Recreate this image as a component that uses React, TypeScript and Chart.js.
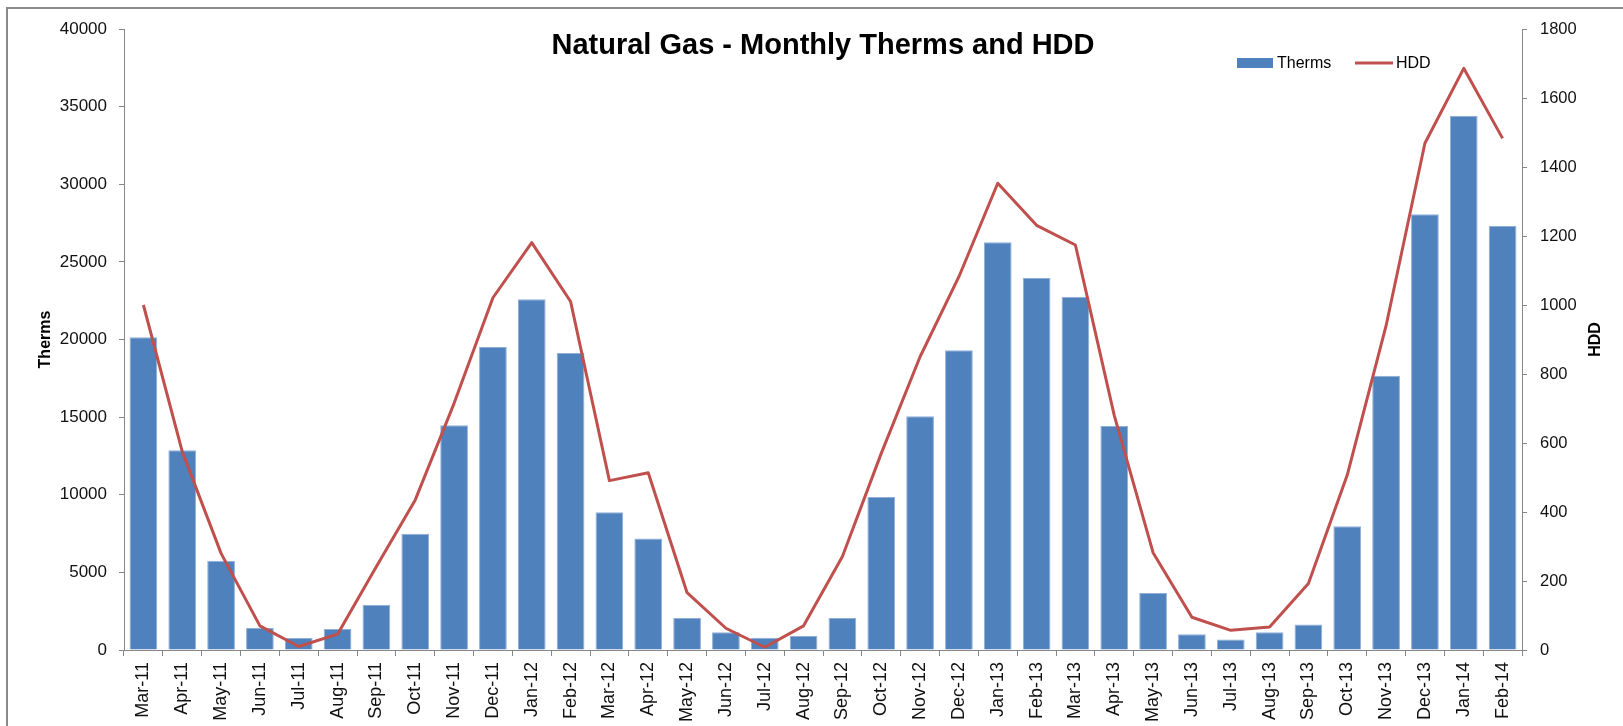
import { useEffect, useRef } from "react";
import { Chart, registerables } from "chart.js";

Chart.register(...registerables);

const months = [
  "Mar-11", "Apr-11", "May-11", "Jun-11", "Jul-11", "Aug-11", "Sep-11", "Oct-11", "Nov-11", "Dec-11",
  "Jan-12", "Feb-12", "Mar-12", "Apr-12", "May-12", "Jun-12", "Jul-12", "Aug-12", "Sep-12", "Oct-12",
  "Nov-12", "Dec-12", "Jan-13", "Feb-13", "Mar-13", "Apr-13", "May-13", "Jun-13", "Jul-13", "Aug-13",
  "Sep-13", "Oct-13", "Nov-13", "Dec-13", "Jan-14", "Feb-14",
];

const therms = [
  20140, 12860, 5750, 1420, 770, 1350, 2920, 7490, 14470, 19520,
  22590, 19130, 8870, 7190, 2060, 1140, 790, 900, 2060, 9860,
  15050, 19300, 26260, 23960, 22760, 14430, 3670, 1010, 670, 1140,
  1650, 7970, 17670, 28060, 34420, 27310,
];

const hdd = [
  1000, 575, 280, 70, 10, 46, 242, 435, 715, 1021,
  1181, 1010, 491, 514, 166, 63, 8, 70, 271, 570,
  850, 1082, 1353, 1231, 1174, 680, 282, 95, 57, 67,
  193, 507, 940, 1469, 1686, 1483,
];

const thermsAxis = { min: 0, max: 40000, step: 5000 };
const hddAxis = { min: 0, max: 1800, step: 200 };

const chartTitle = "Natural Gas - Monthly Therms and HDD";
const leftTitle = "Therms";
const rightTitle = "HDD";

const BAR_COLOR = "#4F81BD";
const LINE_COLOR = "#C0504D";
const AXIS_COLOR = "#878787";
const FONT = "'Liberation Sans', Arial, sans-serif";

const overlayPlugin = {
  id: "overlay",
  beforeDraw(chart: any) {
    const { ctx, width, height } = chart;
    ctx.save();
    ctx.fillStyle = "#ffffff";
    ctx.fillRect(0, 0, width, height);
    ctx.strokeStyle = "#8a8a8a";
    ctx.lineWidth = 2;
    ctx.beginPath();
    ctx.moveTo(7, height + 5);
    ctx.lineTo(7, 8);
    ctx.lineTo(width + 5, 8);
    ctx.stroke();
    ctx.restore();
  },
  afterDraw(chart: any) {
    const { ctx, chartArea } = chart;
    const ds = chart.data.datasets;
    ctx.save();
    ctx.fillStyle = "#000";
    // title
    ctx.font = `bold 29px ${FONT}`;
    ctx.textAlign = "center";
    ctx.textBaseline = "alphabetic";
    ctx.fillText(chartTitle, (chartArea.left + chartArea.right) / 2, 54);
    // axis titles
    const midY = (chartArea.top + chartArea.bottom) / 2;
    ctx.font = `bold 16px ${FONT}`;
    ctx.save();
    ctx.translate(49.5, midY);
    ctx.rotate(-Math.PI / 2);
    ctx.fillText(leftTitle, 0, 0);
    ctx.restore();
    ctx.save();
    ctx.translate(1600, midY);
    ctx.rotate(-Math.PI / 2);
    ctx.fillText(rightTitle, 0, 0);
    ctx.restore();
    // legend
    ctx.font = `16px ${FONT}`;
    ctx.textAlign = "left";
    ctx.fillStyle = ds[0].backgroundColor;
    ctx.fillRect(1237, 58, 36, 10);
    ctx.fillStyle = "#000";
    ctx.fillText(ds[0].label, 1277, 68);
    ctx.strokeStyle = ds[1].borderColor;
    ctx.lineWidth = 3;
    ctx.beginPath();
    ctx.moveTo(1355, 63);
    ctx.lineTo(1393, 63);
    ctx.stroke();
    ctx.fillText(ds[1].label, 1396, 68);
    ctx.restore();
  },
};

const plainNumber = (v: any) => String(v);

export default function App() {
  const ref = useRef<HTMLCanvasElement | null>(null);

  useEffect(() => {
    if (!ref.current) return;
    const chart = new Chart(ref.current, {
      type: "bar",
      data: {
        labels: months,
        datasets: [
          {
            type: "bar",
            label: "Therms",
            data: therms,
            backgroundColor: BAR_COLOR,
            borderColor: "#8FAFD6",
            borderWidth: 1,
            barPercentage: 0.714,
            categoryPercentage: 1,
            yAxisID: "y",
            order: 2,
          },
          {
            type: "line",
            label: "HDD",
            data: hdd,
            borderColor: LINE_COLOR,
            backgroundColor: LINE_COLOR,
            borderWidth: 3,
            pointRadius: 0,
            tension: 0,
            borderJoinStyle: "round",
            yAxisID: "y1",
            order: 1,
          },
        ] as any,
      },
      options: {
        animation: false,
        responsive: false,
        devicePixelRatio: 1,
        layout: { padding: { top: 29, left: 0, right: 0, bottom: 0 } },
        plugins: {
          legend: { display: false },
          title: { display: false },
          tooltip: { enabled: false },
        },
        scales: {
          x: {
            offset: true,
            grid: {
              offset: true,
              drawOnChartArea: false,
              drawTicks: true,
              tickLength: 6,
              color: AXIS_COLOR,
            },
            border: { display: true, color: AXIS_COLOR, width: 1 },
            ticks: {
              autoSkip: false,
              maxRotation: 90,
              minRotation: 90,
              padding: 6,
              color: "#111",
              font: { family: FONT, size: 18 },
            },
            afterFit(scale: any) {
              scale.height = 76;
            },
          },
          y: {
            position: "left",
            min: thermsAxis.min,
            max: thermsAxis.max,
            grid: {
              drawOnChartArea: false,
              drawTicks: true,
              tickLength: 5,
              color: AXIS_COLOR,
            },
            border: { display: true, color: AXIS_COLOR, width: 1 },
            ticks: {
              stepSize: thermsAxis.step,
              padding: 12,
              color: "#111",
              font: { family: FONT, size: 17 },
              callback: plainNumber,
            },
            afterFit(scale: any) {
              scale.width = 124;
            },
          },
          y1: {
            position: "right",
            min: hddAxis.min,
            max: hddAxis.max,
            grid: {
              drawOnChartArea: false,
              drawTicks: true,
              tickLength: 5,
              color: AXIS_COLOR,
            },
            border: { display: true, color: AXIS_COLOR, width: 1 },
            ticks: {
              stepSize: hddAxis.step,
              padding: 13,
              color: "#111",
              font: { family: FONT, size: 16.5 },
              callback: plainNumber,
            },
            afterFit(scale: any) {
              scale.width = 101;
            },
          },
        },
      } as any,
      plugins: [overlayPlugin],
    });
    return () => chart.destroy();
  }, []);

  return (
    <div style={{ position: "absolute", left: 0, top: 0, width: 1623, height: 726 }}>
      <canvas ref={ref} width={1623} height={726} style={{ width: 1623, height: 726, display: "block" }} />
    </div>
  );
}
